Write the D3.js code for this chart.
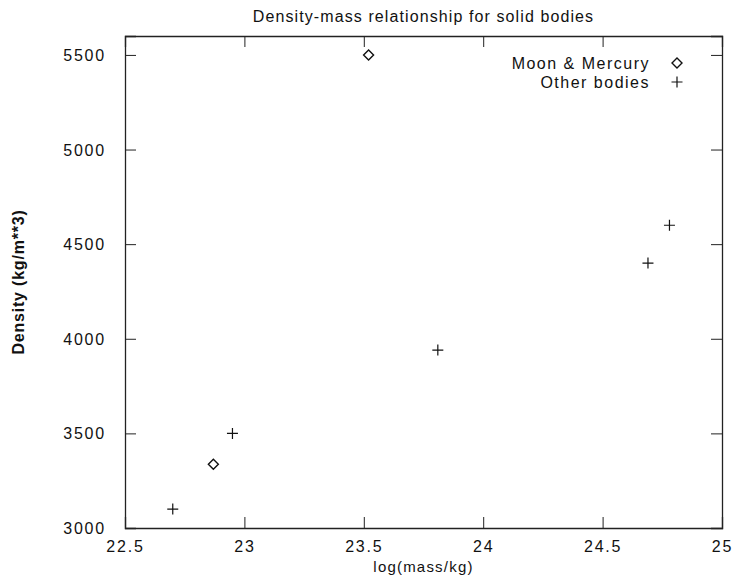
<!DOCTYPE html>
<html>
<head>
<meta charset="utf-8">
<script src="https://cdn.jsdelivr.net/npm/d3@7"></script>
<style>
  html, body { margin: 0; padding: 0; background: #fff; }
  text { font-family: "Liberation Sans", Arial, sans-serif; fill: #111; }
</style>
</head>
<body>
<svg id="chart" width="734" height="578"></svg>
<script>
const title = "Density-mass relationship for solid bodies";
const xLabel = "log(mass/kg)";
const yLabel = "Density (kg/m**3)";

const seriesNames = ["Moon & Mercury", "Other bodies"];
const moonMercuryX = [23.52, 22.87];
const moonMercuryY = [5500, 3337];
const otherX = [22.70, 22.95, 23.81, 24.69, 24.78];
const otherY = [3100, 3500, 3940, 4400, 4600];

const xTicks = [22.5, 23, 23.5, 24, 24.5, 25];
const yTicks = [3000, 3500, 4000, 4500, 5000, 5500];
const xDomain = [22.5, 25];
const yDomain = [3000, 5600];

const svg = d3.select("#chart");
const m = { left: 125, right: 734 - 722, top: 36, bottom: 578 - 528 };
const W = 734, H = 578;
const x = d3.scaleLinear().domain(xDomain).range([m.left, W - m.right]);
const y = d3.scaleLinear().domain(yDomain).range([H - m.bottom, m.top]);

const tickLen = 11;
const stroke = "#222";

const gB = svg.append("g").attr("transform", `translate(0,${y(yDomain[0])})`)
  .call(d3.axisBottom(x).tickValues(xTicks).tickSize(-tickLen).tickPadding(tickLen + 6).tickFormat(d3.format("")));
const gT = svg.append("g").attr("transform", `translate(0,${y(yDomain[1])})`)
  .call(d3.axisTop(x).tickValues(xTicks).tickSize(-tickLen).tickFormat(""));
const gL = svg.append("g").attr("transform", `translate(${x(xDomain[0])},0)`)
  .call(d3.axisLeft(y).tickValues(yTicks).tickSize(-tickLen).tickPadding(tickLen + 8).tickFormat(d3.format("")));
const gR = svg.append("g").attr("transform", `translate(${x(xDomain[1])},0)`)
  .call(d3.axisRight(y).tickValues(yTicks).tickSize(-tickLen).tickFormat(""));

[gB, gT, gL, gR].forEach(g => {
  g.selectAll(".domain").attr("stroke", stroke).attr("stroke-width", 1.3);
  g.selectAll(".tick line").attr("stroke", stroke).attr("stroke-width", 1);
  g.selectAll("text").attr("font-size", 16).attr("letter-spacing", 1.8)
    .attr("font-family", "'Liberation Sans', Arial, sans-serif").attr("fill", "#111");
});
gB.selectAll(".tick").filter(d => d === xDomain[0] || d === xDomain[1]).select("line").remove();
gT.selectAll(".tick").filter(d => d === xDomain[0] || d === xDomain[1]).select("line").remove();
gL.selectAll(".tick").filter(d => d === yDomain[0]).select("line").remove();
gR.selectAll(".tick").filter(d => d === yDomain[0]).select("line").remove();
gB.selectAll("text").attr("dy", "0.45em");
gL.selectAll("text").attr("dy", "0.35em");

const cx = (x(xDomain[0]) + x(xDomain[1])) / 2;
svg.append("text").attr("x", cx).attr("y", 22)
  .attr("text-anchor", "middle").attr("font-size", 16).attr("letter-spacing", 1.1).text(title);
svg.append("text").attr("x", cx).attr("y", 572)
  .attr("text-anchor", "middle").attr("font-size", 15).attr("letter-spacing", 1.2).text(xLabel);
svg.append("text")
  .attr("transform", `translate(24,${(y(yDomain[0]) + y(yDomain[1])) / 2}) rotate(-90)`)
  .attr("text-anchor", "middle").attr("font-size", 16).attr("font-weight", "bold").attr("letter-spacing", 0.8)
  .text(yLabel);

function plusPath(s) { return `M${-s},0H${s}M0,${-s}V${s}`; }
function diamondPath(s) { return `M0,${-s}L${s},0L0,${s}L${-s},0Z`; }

const mmData = moonMercuryX.map((v, i) => ({ x: v, y: moonMercuryY[i] }));
const otData = otherX.map((v, i) => ({ x: v, y: otherY[i] }));

svg.append("g").selectAll("path").data(mmData).join("path")
  .attr("transform", d => `translate(${x(d.x)},${y(d.y)})`)
  .attr("d", diamondPath(5))
  .attr("fill", "none").attr("stroke", "#111").attr("stroke-width", 1.4);

svg.append("g").selectAll("path").data(otData).join("path")
  .attr("transform", d => `translate(${x(d.x)},${y(d.y)})`)
  .attr("d", plusPath(5.5))
  .attr("fill", "none").attr("stroke", "#111").attr("stroke-width", 1.2);

const leg = svg.append("g");
const legY = [63, 82];
const legTextX = 650, legMarkX = 677;
seriesNames.forEach((name, i) => {
  leg.append("text").attr("x", legTextX).attr("y", legY[i]).attr("dy", "0.35em")
    .attr("text-anchor", "end").attr("font-size", 16).attr("letter-spacing", 1.5).text(name);
  leg.append("path").attr("transform", `translate(${legMarkX},${legY[i]})`)
    .attr("d", i === 0 ? diamondPath(5) : plusPath(5.5))
    .attr("fill", "none").attr("stroke", "#111").attr("stroke-width", i === 0 ? 1.4 : 1.2);
});
</script>
</body>
</html>
